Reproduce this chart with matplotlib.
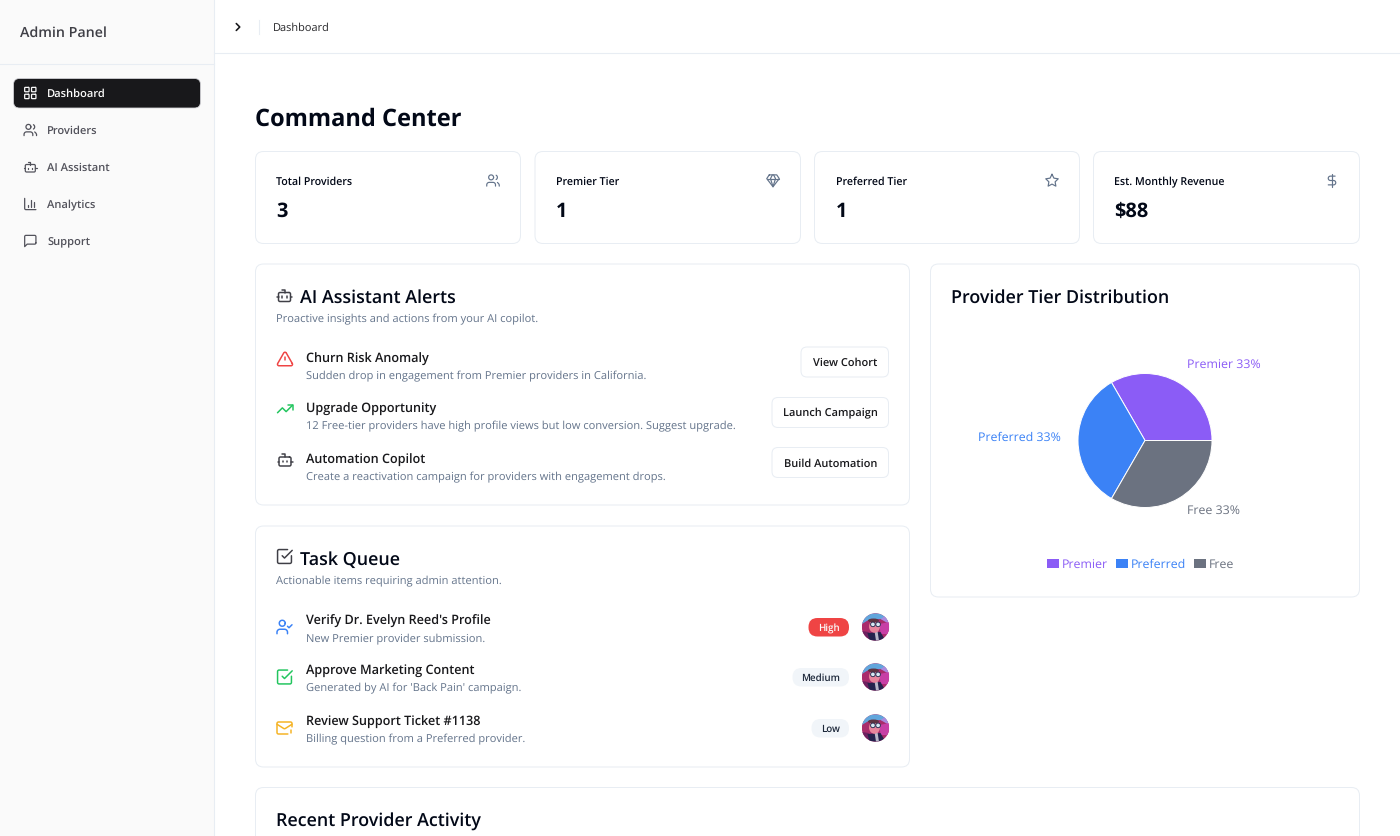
import numpy as np
import matplotlib
matplotlib.use('Agg')
import matplotlib.pyplot as plt
from matplotlib.patches import FancyBboxPatch, Rectangle, Circle, Ellipse, Polygon

plt.rcParams['font.family'] = ['Open Sans', 'DejaVu Sans']
plt.rcParams['text.hinting'] = 'no_hinting'

# ============== dados ==============
nav_labels = ['Dashboard', 'Providers', 'AI Assistant', 'Analytics', 'Support']
stat_titles = ['Total Providers', 'Premier Tier', 'Preferred Tier', 'Est. Monthly Revenue']
stat_values = ['3', '1', '1', '$88']
alert_titles = ['Churn Risk Anomaly', 'Upgrade Opportunity', 'Automation Copilot']
alert_texts = ['Sudden drop in engagement from Premier providers in California.',
               '12 Free-tier providers have high profile views but low conversion. Suggest upgrade.',
               'Create a reactivation campaign for providers with engagement drops.']
alert_buttons = ['View Cohort', 'Launch Campaign', 'Build Automation']
task_titles = ["Verify Dr. Evelyn Reed's Profile", 'Approve Marketing Content', 'Review Support Ticket #1138']
task_texts = ['New Premier provider submission.', "Generated by AI for 'Back Pain' campaign.",
              'Billing question from a Preferred provider.']
task_badges = ['High', 'Medium', 'Low']
tiers = ['Premier', 'Preferred', 'Free']
tier_counts = [1, 1, 1]
tier_colors = ['#8b5cf6', '#3b82f6', '#6b7280']

BORDER = '#e8edf3'
INK = '#020817'
MUTED = '#64748b'
FONT_SCALE = 0.72


# ============== helpers ==============
def txt(x, y, s, px=12, color=INK, weight='normal', ha='left'):
    # y e o centro visual da linha, em pixels
    return ax.text(x, y + 0.36 * px, s, fontsize=px * FONT_SCALE, color=color, weight=weight,
                   ha=ha, va='baseline', zorder=6)


def caixa(x0, y0, x1, y1, r=8, fc='white', ec=BORDER, lw=1.0, z=1):
    p = FancyBboxPatch((x0, y0), x1 - x0, y1 - y0, boxstyle=f'round,pad=0,rounding_size={r}',
                       fc=fc, ec=ec, lw=lw * 0.72, zorder=z)
    ax.add_patch(p)
    return p


def arco(cu, cv, r, a1, a2):
    t = np.radians(np.linspace(a1, a2, 16))
    return list(zip(cu + r * np.cos(t), cv + r * np.sin(t)))


def ret(u, v, w, h, r):
    pts = arco(u + w - r, v + r, r, -90, 0) + arco(u + w - r, v + h - r, r, 0, 90)
    pts += arco(u + r, v + h - r, r, 90, 180) + arco(u + r, v + r, r, 180, 270)
    return pts + [pts[0]]


def ombros(fim=16):
    return [(fim, 21)] + arco(fim - 4, 19, 4, 0, -90)[::1] + arco(6, 19, 4, -90, -180) + [(2, 21)]


ICONS = {
    'grid': [ret(3, 3, 7, 7, 1), ret(14, 3, 7, 7, 1), ret(14, 14, 7, 7, 1), ret(3, 14, 7, 7, 1)],
    'users': [arco(9, 7, 4, 0, 360), ombros(), arco(15, 7, 4, -60, 60), [(22, 21), (22, 19), (21, 17), (19, 15.1)]],
    'bot': [[(12, 8), (12, 4), (8, 4)], ret(4, 8, 16, 12, 2), [(2, 14), (4, 14)], [(20, 14), (22, 14)],
            [(15, 13), (15, 15)], [(9, 13), (9, 15)]],
    'bars': [[(3, 3), (3, 19)] + arco(5, 19, 2, 180, 90) + [(21, 21)], [(18, 17), (18, 9)], [(13, 17), (13, 5)], [(8, 17), (8, 14)]],
    'message': [[(21, 15)] + arco(19, 15, 2, 0, 90) + [(7, 17), (3, 21), (3, 5)] + arco(5, 5, 2, 180, 270) + [(19, 3)] + arco(19, 5, 2, -90, 0) + [(21, 15)]],
    'gem': [[(6, 3), (18, 3), (22, 9), (12, 22), (2, 9), (6, 3)], [(11, 3), (8, 9), (12, 22), (16, 9), (13, 3)], [(2, 9), (22, 9)]],
    'star': [[(12, 2), (15.09, 8.26), (22, 9.27), (17, 14.14), (18.18, 21.02), (12, 17.77), (5.82, 21.02), (7, 14.14), (2, 9.27), (8.91, 8.26), (12, 2)]],
    'dollar': [[(12, 2), (12, 22)], [(17, 5), (9.5, 5)] + arco(9.5, 8.5, 3.5, -90, -270) + arco(14.5, 15.5, 3.5, -90, 90) + [(6, 19)]],
    'alert': [[(21.73, 18), (13.73, 4)] + arco(12, 5, 2, -30, -150) + [(2.27, 18)] + arco(4, 19, 2, 210, 90) + [(20, 21)] + arco(20, 19, 2, 90, -30), [(12, 9), (12, 13)], [(12, 17), (12.01, 17)]],
    'trend': [[(22, 7), (13.5, 15.5), (8.5, 10.5), (2, 17)], [(16, 7), (22, 7), (22, 13)]],
    'usercheck': [ombros(), arco(9, 7, 4, 0, 360), [(16, 11), (18, 13), (22, 9)]],
    'tasksq': [[(21, 11), (21, 19)] + arco(19, 19, 2, 0, 90) + [(5, 21)] + arco(5, 19, 2, 90, 180) + [(3, 5)] + arco(5, 5, 2, 180, 270) + [(16, 3)], [(9, 11), (12, 14), (22, 4)]],
    'mail': [[(22, 10.5), (22, 6)] + arco(20, 6, 2, 0, -90) + [(4, 4)] + arco(4, 6, 2, -90, -180) + [(2, 18)] + arco(4, 18, 2, 180, 90) + [(16.5, 20)],
             [(22, 7), (13, 12.7), (12, 13), (11, 12.7), (2, 7)], [(20, 14), (20, 18)], [(20, 22), (20, 22.01)]],
    'chevron': [[(9, 18), (15, 12), (9, 6)]],
}


def icone(nome, cx, cy, size=14, color='#52525b', lw=1.35):
    k = size / 24
    for linha in ICONS[nome]:
        pts = np.array(linha, dtype=float)
        ax.plot(cx + (pts[:, 0] - 12) * k, cy + (pts[:, 1] - 12) * k, color=color, lw=lw * 0.72,
                solid_capstyle='round', solid_joinstyle='round', zorder=4)


def avatar(cx, cy, r=13.7):
    # retrato pequeno, so manchas de cor recortadas pelo circulo
    clip = Circle((cx, cy), r, transform=ax.transData)
    manchas = [
        Rectangle((cx - r, cy - r), 2 * r, 2 * r, fc='#a92c6c'),
        Polygon([(cx - r, cy - r), (cx + r, cy - r), (cx + r, cy - 6), (cx + 5, cy - 8), (cx - 7, cy - 7), (cx - r, cy - 3)], fc='#62a6dc'),
        Polygon([(cx + 5, cy - 8), (cx + r, cy - r), (cx + r, cy - 3)], fc='#a98ade'),
        Polygon([(cx + 4, cy - 3), (cx + r, cy - 5), (cx + r, cy + 7), (cx + 5, cy + 7)], fc='#c73fa6'),
        Polygon([(cx - r, cy + 4), (cx - 7, cy + 5), (cx - 4, cy + r), (cx - r, cy + r)], fc='#6d2160'),
        Polygon([(cx - 8, cy + 6), (cx + 5, cy + 5), (cx + 10, cy + r), (cx - 6, cy + r)], fc='#25224d'),
        Polygon([(cx - 1, cy + 4), (cx + 2, cy + 4), (cx + 3.5, cy + r), (cx + 0.5, cy + r)], fc='#b9b6c8'),
        Ellipse((cx - 1, cy - 0.5), 11, 12.5, fc='#e8859c'),
        Ellipse((cx - 2, cy - 6.5), 11, 4, fc='#5e3340'),
        Circle((cx - 2.6, cy - 2.6), 2.3, fc='#d7e9f2', ec='#1e2347', lw=0.6),
        Circle((cx + 2.6, cy - 2.6), 2.3, fc='#d7e9f2', ec='#1e2347', lw=0.6),
    ]
    for m in manchas:
        m.set_zorder(3)
        ax.add_patch(m)
        m.set_clip_path(clip)


# ============== pagina ==============
fig = plt.figure(figsize=(14, 8.36), dpi=100, facecolor='white')
ax = fig.add_axes([0, 0, 1, 1])
ax.set_xlim(0, 1400)
ax.set_ylim(836, 0)
ax.axis('off')

# barra lateral
ax.add_patch(Rectangle((0, 0), 214, 836, fc='#fafafa', ec='none', zorder=0))
ax.plot([214, 214], [0, 836], color=BORDER, lw=0.8)
ax.plot([0, 214], [64, 64], color=BORDER, lw=0.8)
ax.plot([214, 1400], [53, 53], color=BORDER, lw=0.8)
txt(20, 32, 'Admin Panel', 14.2, '#3f3f46', 600)

caixa(13.5, 78.5, 200.5, 108, r=6, fc='#18181b', ec='#d4d4d8', lw=0.8, z=2)
nav_icons = ['grid', 'users', 'bot', 'bars', 'message']
for i, label in enumerate(nav_labels):
    y = 93 + 37 * i
    cor = '#fafafa' if i == 0 else '#52525b'
    icone(nav_icons[i], 30.3, y, 15, cor, 1.25)
    txt(47, y, label, 11.1, cor, 600)

# breadcrumb
icone('chevron', 238, 27, 14, '#18181b', 1.6)
ax.plot([259, 259], [20, 34], color=BORDER, lw=0.8)
txt(273, 27, 'Dashboard', 11.0, '#27272a')

txt(255, 117, 'Command Center', 23.6, INK, 700)

# cards de numeros
stat_x = [(255.5, 520.5), (535, 800.5), (814.5, 1079.5), (1093.5, 1359.5)]
stat_icons = ['users', 'gem', 'star', 'dollar']
for i, (x0, x1) in enumerate(stat_x):
    caixa(x0, 151.5, x1, 243.5)
    txt(x0 + 21, 181.3, stat_titles[i], 10.6, INK, 600)
    txt(x0 + 21, 210, stat_values[i], 20, INK, 700)
    icone(stat_icons[i], x1 - 27.5, 180.5, 15, MUTED, 1.2)

# alertas
caixa(255.5, 264, 909.5, 505)
icone('bot', 284.5, 295.5, 18, '#3f3f46', 1.5)
txt(300, 296, 'AI Assistant Alerts', 17.9, INK, 600)
txt(276, 318, 'Proactive insights and actions from your AI copilot.', 11.1, MUTED)
alert_rows = [(358.2, 375), (408.2, 425), (459.2, 476)]
alert_icons = [('alert', '#ef4444'), ('trend', '#22c55e'), ('bot', '#3f3f46')]
button_x = [(801, 888.5), (772, 888.5), (772, 888.5)]
button_y = [(347, 377), (397.5, 427.5), (447.5, 477.5)]
for i, (y1, y2) in enumerate(alert_rows):
    icone(alert_icons[i][0], 285, y1 + 0.8, 18, alert_icons[i][1], 1.5)
    txt(306, y1, alert_titles[i], 12.6, '#18181b', 600)
    txt(306, y2, alert_texts[i], 11.1, MUTED)
    caixa(button_x[i][0], button_y[i][0], button_x[i][1], button_y[i][1], r=6)
    txt(sum(button_x[i]) / 2, sum(button_y[i]) / 2, alert_buttons[i], 11.0, '#18181b', 600, ha='center')

# fila de tarefas
caixa(255.5, 526, 909.5, 767)
icone('tasksq', 284.5, 556.5, 18.5, '#3f3f46', 1.5)
txt(300, 558, 'Task Queue', 17.9, INK, 600)
txt(276, 580, 'Actionable items requiring admin attention.', 11.1, MUTED)
task_rows = [(620.2, 637), (670.2, 687), (721.2, 738)]
task_icons = [('usercheck', '#3b82f6', 18), ('tasksq', '#22c55e', 18.5), ('mail', '#f5b324', 18)]
badge_x = [(808.5, 849), (792.5, 849), (811.5, 849)]
badge_fc = ['#ef4444', '#f1f5f9', '#f1f5f9']
badge_tc = ['#fafafa', '#1e293b', '#1e293b']
for i, (y1, y2) in enumerate(task_rows):
    icone(task_icons[i][0], 284.5, y1 + 6.8, task_icons[i][2], task_icons[i][1], 1.5)
    txt(306, y1, task_titles[i], 12.6, '#18181b', 600)
    txt(306, y2, task_texts[i], 11.1, MUTED)
    caixa(badge_x[i][0], y1 - 2.2, badge_x[i][1], y1 + 16.3, r=9, fc=badge_fc[i], ec='none')
    txt(sum(badge_x[i]) / 2, y1 + 7.4, task_badges[i], 9.8, badge_tc[i], 600, ha='center')
    avatar(875.5, y1 + 6.8)

# card da pizza
caixa(930.5, 264, 1359.5, 597)
txt(951, 296, 'Provider Tier Distribution', 17.9, INK, 600)

# atividade recente, cortada pela borda da pagina
caixa(255.5, 787.5, 1359.5, 900)
txt(276, 820, 'Recent Provider Activity', 17.9, INK, 600)

# pizza em eixos proprios, 140 px de lado centrados em (1145, 440.5)
ax_pie = fig.add_axes([(1145 - 70) / 1400, 1 - (440.5 + 70) / 836, 140 / 1400, 140 / 836])
ax_pie.pie(tier_counts, colors=tier_colors, startangle=0, radius=67,
           wedgeprops={'edgecolor': 'white', 'linewidth': 0.7})
ax_pie.set_xlim(-70, 70)
ax_pie.set_ylim(-70, 70)
ax_pie.axis('off')

total = sum(tier_counts)
label_pos = [(1187, 363.7, 'left'), (1061, 436.3, 'right'), (1187, 509.7, 'left')]
for nome, n, cor, (x, y, ha) in zip(tiers, tier_counts, tier_colors, label_pos):
    txt(x, y, f'{nome} {n / total:.0%}', 12.4, cor, ha=ha)

legend_x = [1047, 1116, 1194]
for nome, cor, x in zip(tiers, tier_colors, legend_x):
    ax.add_patch(Rectangle((x, 559), 12, 9, fc=cor, ec='none', zorder=3))
    txt(x + 15, 563.2, nome, 12.4, cor)

fig.savefig('out.png', dpi=100)
